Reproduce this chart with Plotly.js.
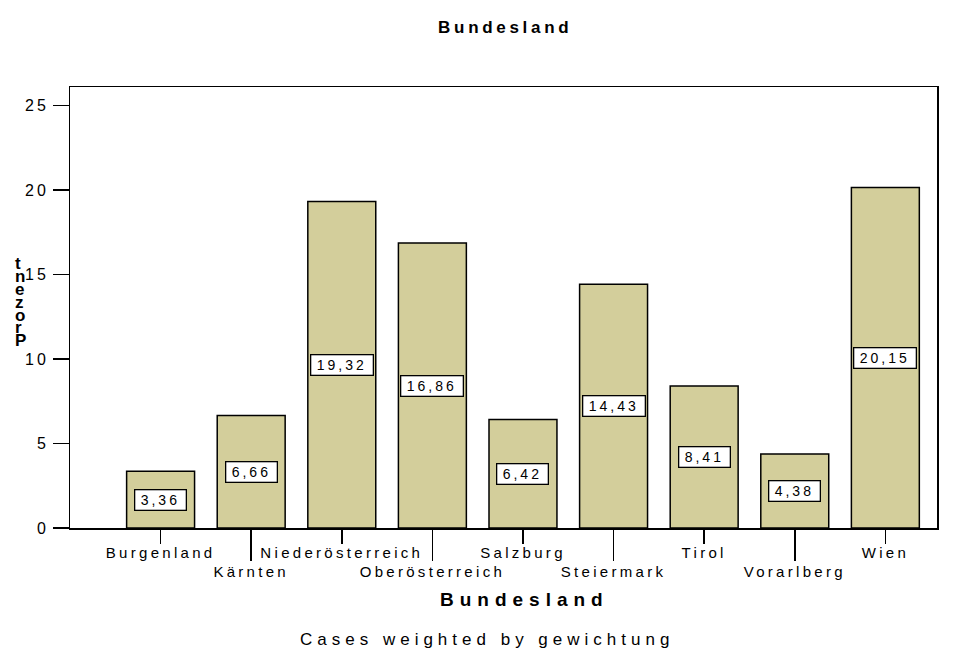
<!DOCTYPE html>
<html>
<head>
<meta charset="utf-8">
<script src="https://cdn.plot.ly/plotly-3.0.1.min.js"></script>
<style>
  body { margin: 0; background: #fff; }
  #chart { width: 962px; height: 650px; }
  text { letter-spacing: 3.3px; }
  text.annotation-text { letter-spacing: 3px; }
  text.gtitle { letter-spacing: 3.7px; }
</style>
</head>
<body>
<div id="chart"></div>
<script>
// ---- data ----
const categories = ["Burgenland", "Kärnten", "Niederösterreich", "Oberösterreich", "Salzburg",
                    "Steiermark", "Tirol", "Vorarlberg", "Wien"];
const percent = [3.36, 6.66, 19.32, 16.86, 6.42, 14.43, 8.41, 4.38, 20.15];
const yTicks = [0, 5, 10, 15, 20, 25];
const chartTitle = "Bundesland";
const xTitle = "Bundesland";
const yTitle = "Prozent";
const footnote = "Cases weighted by gewichtung";

// ---- build ----
const idx = categories.map((_, i) => i);
const evenIdx = idx.filter(i => i % 2 === 0);
const oddIdx = idx.filter(i => i % 2 === 1);
const FONT = "Liberation Sans, Arial, sans-serif";

const trace = {
  type: "bar",
  x: idx,
  y: percent,
  width: 0.75,
  marker: { color: "#D3CE9B", line: { color: "#000", width: 1.5 } },
  hoverinfo: "skip",
  xaxis: "x",
  yaxis: "y"
};

const annotations = percent.map((v, i) => {
  const label = v.toFixed(2).replace(".", ",");
  return {
    x: i, y: v / 2, xref: "x", yref: "y",
    text: label, width: label.length * 11 + 3,
    showarrow: false,
    bgcolor: "#fff", bordercolor: "#000", borderwidth: 1.3, borderpad: 1.5,
    font: { family: FONT, size: 14, color: "#000" }
  };
});

// y-axis title letters stacked (as in the reference)
const letters = yTitle.split("").reverse();
const step = 12.8;
letters.forEach((ch, k) => {
  annotations.push({
    xref: "paper", yref: "paper", x: 0, y: 0.512,
    xshift: -57, yshift: ((letters.length - 1) / 2 - k) * step,
    text: "<b>" + ch + "</b>", showarrow: false,
    font: { family: FONT, size: 17, color: "#000" }
  });
});

annotations.push({
  xref: "paper", yref: "paper", x: 0.524, y: -0.163, yanchor: "middle",
  text: "<b><span style='letter-spacing:6px'>" + xTitle + "</span></b>", showarrow: false,
  font: { family: FONT, size: 19, color: "#000" }
});
annotations.push({
  xref: "paper", yref: "paper", x: 0.481, y: -0.252, yanchor: "middle",
  text: "<span style='letter-spacing:5px'>" + footnote + "</span>", showarrow: false,
  font: { family: FONT, size: 17, color: "#000" }
});

const xRange = [-1.0, 8.57];
const tickFont = { family: FONT, size: 15, color: "#000" };
const layout = {
  width: 962, height: 650,
  margin: { l: 70, r: 25, t: 87, b: 122 },
  paper_bgcolor: "#fff", plot_bgcolor: "#fff",
  showlegend: false,
  title: { text: "<b>" + chartTitle + "</b>", x: 0.502, xref: "paper", y: 1 - 27 / 650, yanchor: "middle",
           font: { family: FONT, size: 17, color: "#000" } },
  xaxis: {
    range: xRange, tickmode: "array",
    tickvals: evenIdx, ticktext: evenIdx.map(i => categories[i]),
    ticks: "outside", ticklen: 14, tickwidth: 1.5, tickcolor: "#000",
    ticklabelstandoff: -4,
    showline: true, mirror: true, linecolor: "#000", linewidth: 1.5,
    showgrid: false, zeroline: false, fixedrange: true,
    tickfont: tickFont
  },
  xaxis2: {
    overlaying: "x", anchor: "y", side: "bottom",
    range: xRange, tickmode: "array",
    tickvals: oddIdx, ticktext: oddIdx.map(i => categories[i]),
    ticks: "outside", ticklen: 32, tickwidth: 1.5, tickcolor: "#000",
    ticklabelstandoff: -2,
    showline: false, showgrid: false, zeroline: false, fixedrange: true,
    tickfont: tickFont
  },
  yaxis: {
    range: [0, 26.1], tickmode: "array", tickvals: yTicks,
    ticks: "outside", ticklen: 16, tickwidth: 1.5, tickcolor: "#000",
    ticklabelstandoff: 0,
    showline: true, mirror: true, linecolor: "#000", linewidth: 1.5,
    showgrid: false, zeroline: false, fixedrange: true,
    tickfont: { family: FONT, size: 16, color: "#000" }
  },
  annotations: annotations
};

// invisible helper trace so the second (staggered-label) x axis is drawn
const dummy = { type: "scatter", x: [0], y: [0], xaxis: "x2", yaxis: "y",
                mode: "markers", marker: { opacity: 0 }, hoverinfo: "skip" };

Plotly.newPlot("chart", [trace, dummy], layout, { displayModeBar: false, staticPlot: true });
</script>
</body>
</html>
